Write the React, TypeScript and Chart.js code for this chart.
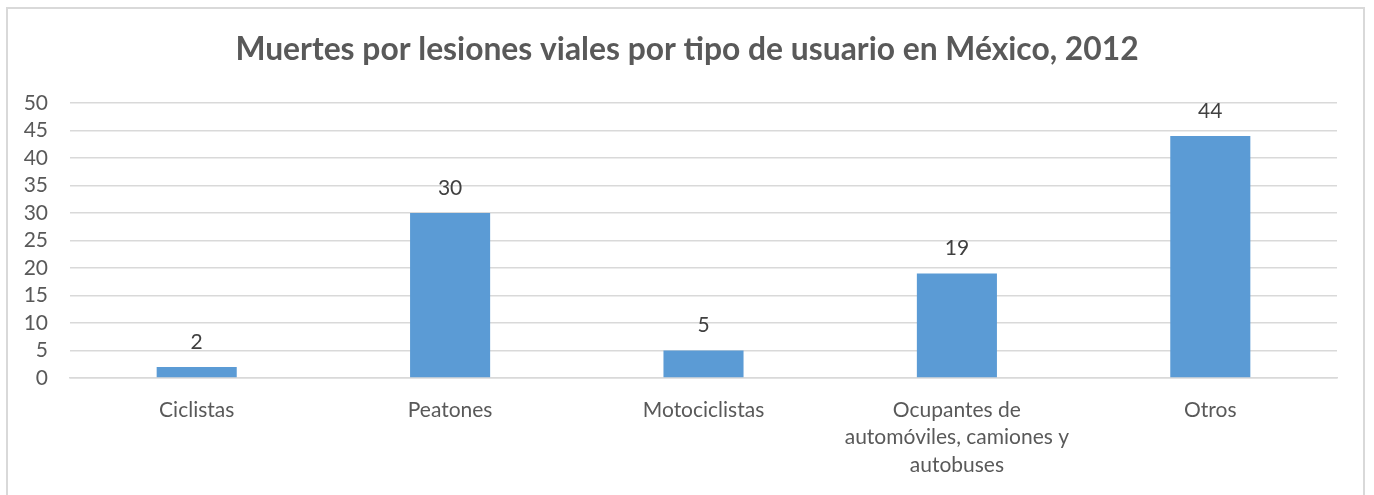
import React, { useEffect, useRef } from "react";
import { Chart, registerables } from "chart.js";

Chart.register(...registerables);

const categories: (string | string[])[] = [
  "Ciclistas",
  "Peatones",
  "Motociclistas",
  ["Ocupantes de", "automóviles, camiones y", "autobuses"],
  "Otros",
];
const deaths: number[] = [2, 30, 5, 19, 44];
const titleText = "Muertes por lesiones viales por tipo de usuario en México, 2012";

const FONT = "Lato";

const dataLabels = {
  id: "dataLabels",
  afterDatasetsDraw(chart: any) {
    const ctx = chart.ctx;
    const meta = chart.getDatasetMeta(0);
    ctx.save();
    ctx.font = `21px ${FONT}`;
    ctx.fillStyle = "#404040";
    ctx.textAlign = "center";
    ctx.textBaseline = "middle";
    meta.data.forEach((el: any, i: number) => {
      ctx.fillText(String(chart.data.datasets[0].data[i]), el.x, el.y - 25);
    });
    ctx.restore();
  },
};

const centeredTitle = {
  id: "centeredTitle",
  afterDraw(chart: any) {
    const ctx = chart.ctx;
    ctx.save();
    ctx.font = `bold 31.8px ${FONT}`;
    ctx.fillStyle = "#595959";
    ctx.textAlign = "center";
    ctx.textBaseline = "middle";
    ctx.fillText(titleText, chart.width / 2, 50);
    ctx.restore();
  },
};

export default function App() {
  const ref = useRef<HTMLCanvasElement>(null);
  useEffect(() => {
    if (!ref.current) return;
    const chart = new Chart(ref.current, {
      type: "bar",
      data: {
        labels: categories,
        datasets: [
          {
            data: deaths,
            backgroundColor: "#5B9BD5",
            barPercentage: 0.316,
            categoryPercentage: 1,
          },
        ],
      },
      options: {
        animation: false,
        responsive: false,
        layout: { padding: { left: 0, right: 37, top: 103, bottom: 0 } },
        plugins: {
          legend: { display: false },
          tooltip: { enabled: false },
          title: { display: false },
        },
        scales: {
          y: {
            min: 0,
            max: 50,
            ticks: {
              stepSize: 5,
              autoSkip: false,
              color: "#595959",
              font: { family: FONT, size: 21 },
              padding: 22,
            },
            grid: { color: "#D9D9D9", lineWidth: 1.5, drawTicks: false },
            border: { display: false },
            afterFit(scale: any) {
              scale.width = 70;
            },
          },
          x: {
            ticks: {
              color: "#595959",
              font: { family: FONT, size: 21, lineHeight: "27.5px" },
              padding: 18,
              maxRotation: 0,
              autoSkip: false,
            },
            grid: { display: false, drawTicks: false },
            border: { display: true, color: "#D9D9D9", width: 1.5 },
            afterFit(scale: any) {
              scale.height = 117;
            },
          },
        },
      },
      plugins: [dataLabels, centeredTitle],
    });
    return () => chart.destroy();
  }, []);

  return (
    <div style={{ position: "fixed", left: 0, top: 0, width: 1374, height: 495, background: "#fff", overflow: "hidden" }}>
      <div
        style={{
          position: "absolute",
          left: 6,
          top: 7,
          width: 1359,
          height: 520,
          border: "2px solid #D9D9D9",
          boxSizing: "border-box",
        }}
      />
      <canvas ref={ref} width={1374} height={495} style={{ position: "absolute", left: 0, top: 0 }} />
    </div>
  );
}
